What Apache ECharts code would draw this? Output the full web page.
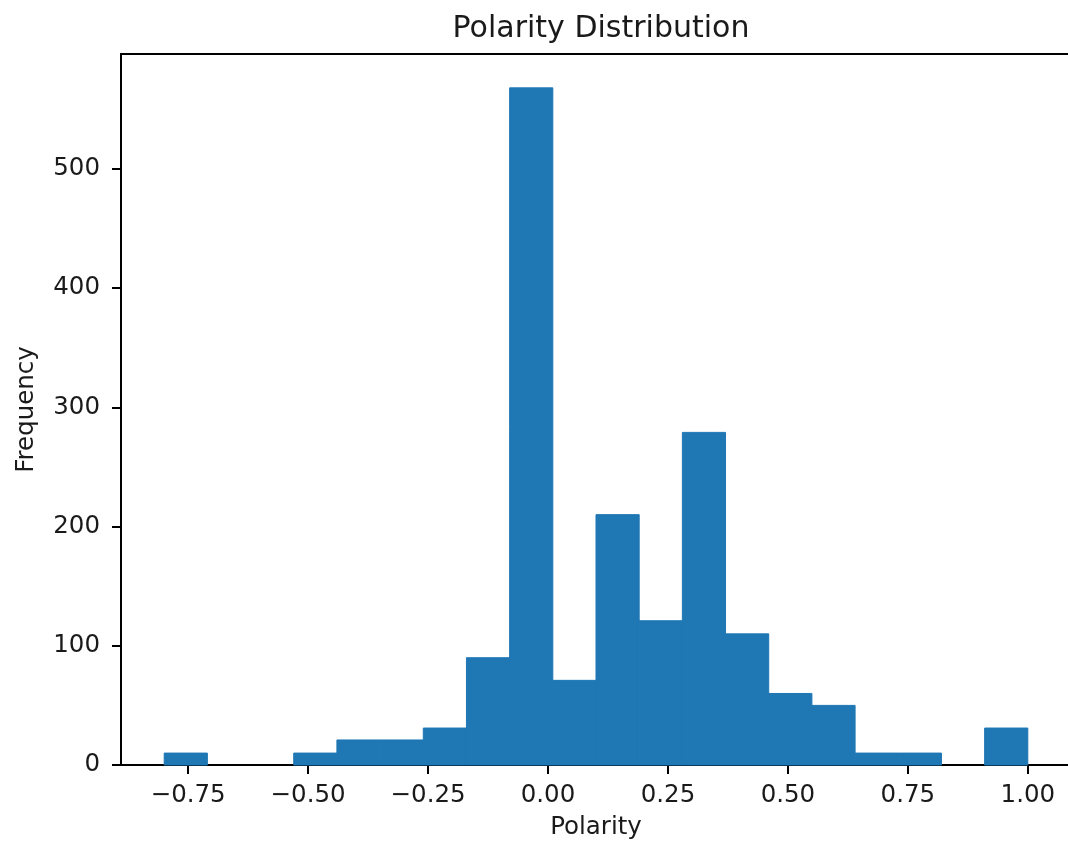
<!DOCTYPE html>
<html>
<head>
<meta charset="utf-8">
<script src="https://cdn.jsdelivr.net/npm/echarts@6/dist/echarts.min.js"></script>
<style>
html,body{margin:0;padding:0;background:#fff;overflow:hidden;}
#chart{width:1068px;height:845px;}
</style>
</head>
<body>
<div id="chart"></div>
<script>
const binEdges = [-0.80, -0.71, -0.62, -0.53, -0.44, -0.35, -0.26, -0.17, -0.08, 0.01, 0.10, 0.19, 0.28, 0.37, 0.46, 0.55, 0.64, 0.73, 0.82, 0.91, 1.00];
const counts = [10, 0, 0, 10, 21, 21, 31, 90, 568, 71, 210, 121, 279, 110, 60, 50, 10, 10, 0, 31];
const xTicks = [-0.75, -0.50, -0.25, 0.00, 0.25, 0.50, 0.75, 1.00];
const yTicks = [0, 100, 200, 300, 400, 500];

const histData = counts.map((c, i) => [binEdges[i], binEdges[i + 1], c]);
const font = 'DejaVu Sans';
const txt = '#1a1a1a';

const chart = echarts.init(document.getElementById('chart'), null, {renderer: 'canvas'});
chart.setOption({
  animation: false,
  backgroundColor: '#fff',
  title: {
    text: 'Polarity Distribution',
    left: 596, top: 9, textAlign: 'center',
    textStyle: {fontFamily: font, fontSize: 30, fontWeight: 'normal', color: txt}
  },
  grid: {left: 121, width: 950, top: 54, bottom: 80, outerBoundsMode: 'none', containLabel: false,
    show: true, borderColor: '#000', borderWidth: 2, backgroundColor: 'transparent'},
  xAxis: {
    type: 'value', min: -0.89, max: 1.09,
    name: 'Polarity', nameLocation: 'middle', nameGap: 50,
    nameTextStyle: {fontFamily: font, fontSize: 24.5, color: txt},
    axisLine: {show: true, onZero: false, lineStyle: {color: '#000', width: 2}},
    axisTick: {show: true, length: 9, lineStyle: {color: '#000', width: 2}, customValues: xTicks},
    axisLabel: {fontFamily: font, fontSize: 24.5, color: txt, margin: 18, customValues: xTicks,
      formatter: v => v.toFixed(2).replace('-', '\u2212')},
    splitLine: {show: false}
  },
  yAxis: {
    type: 'value', min: 0, max: 596.4,
    name: 'Frequency', nameLocation: 'middle', nameGap: 82, nameRotate: 90,
    nameTextStyle: {fontFamily: font, fontSize: 24.5, color: txt},
    axisLine: {show: true, onZero: false, lineStyle: {color: '#000', width: 2}},
    axisTick: {show: true, length: 9, lineStyle: {color: '#000', width: 2}, customValues: yTicks},
    axisLabel: {fontFamily: font, fontSize: 24.5, color: txt, margin: 21, customValues: yTicks},
    splitLine: {show: false}
  },
  series: [{
    type: 'custom',
    data: histData,
    encode: {x: [0, 1], y: 2},
    renderItem: function (params, api) {
      const c = api.value(2);
      if (!c) return;
      const p0 = api.coord([api.value(0), c]);
      const p1 = api.coord([api.value(1), 0]);
      return {
        type: 'rect',
        shape: {x: p0[0], y: p0[1], width: p1[0] - p0[0], height: p1[1] - p0[1]},
        style: {fill: '#1f77b4', stroke: '#1f77b4', lineWidth: 1}
      };
    },
    z: 1
  }]
});
</script>
</body>
</html>
